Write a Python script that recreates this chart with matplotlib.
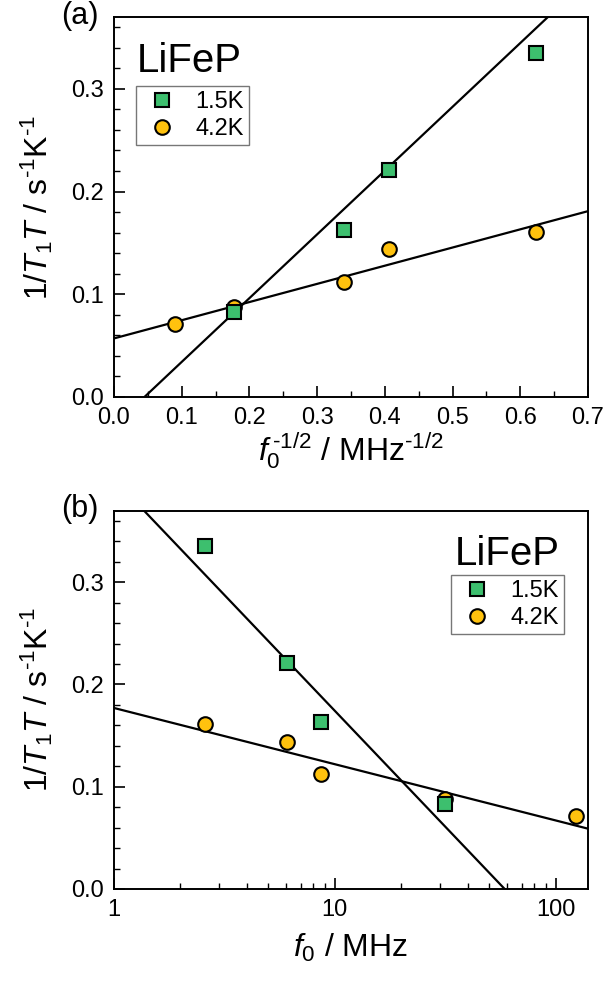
import numpy as np
import matplotlib
matplotlib.use("Agg")
import matplotlib.pyplot as plt
from matplotlib.ticker import MultipleLocator, LogLocator, NullFormatter

plt.rcParams['font.family'] = ['Liberation Sans', 'DejaVu Sans']
plt.rcParams['mathtext.fontset'] = 'custom'
plt.rcParams['mathtext.rm'] = 'Liberation Sans'
plt.rcParams['mathtext.it'] = 'Liberation Sans:italic'

# data
f0_green = [31.6, 8.65, 6.07, 2.58]          # MHz, 1.5K
rate_green = [0.083, 0.163, 0.221, 0.335]
f0_yellow = [123.0, 31.6, 8.65, 6.07, 2.58]  # MHz, 4.2K
rate_yellow = [0.071, 0.088, 0.112, 0.144, 0.161]

# straight lines drawn in the figure: (slope, intercept)
line_a_green = [0.621, -0.028]     # vs f0^-1/2
line_a_yellow = [0.177, 0.057]
line_b_green = [-0.2266, 0.4008]   # vs log10(f0)
line_b_yellow = [-0.055, 0.177]

labels = ['1.5K', '4.2K']
green = '#3dbf6e'
yellow = '#ffc20e'

xg = np.array(f0_green) ** -0.5
xy = np.array(f0_yellow) ** -0.5

fig = plt.figure(figsize=(6.04, 9.85), dpi=100)
ax1 = fig.add_axes([0.1887, 0.5970, 0.7848, 0.3858])
ax2 = fig.add_axes([0.1887, 0.0975, 0.7848, 0.3841])

ylab = r'1/$\mathit{T}_1\mathit{T}$ / s$^{\text{-1}}$K$^{\text{-1}}$'
mk = dict(linestyle='none', markeredgecolor='black', markeredgewidth=1.5, zorder=3)
leg_kw = dict(fontsize=17, frameon=True, fancybox=False, edgecolor='#555555',
              handlelength=1.8, handletextpad=0.5, borderpad=0.22,
              labelspacing=0.2, borderaxespad=0)

# (a)
xx = np.linspace(0, 0.7, 50)
ax1.plot(xx, line_a_green[0] * xx + line_a_green[1], color='black', lw=1.6, zorder=2)
ax1.plot(xx, line_a_yellow[0] * xx + line_a_yellow[1], color='black', lw=1.6, zorder=2)
ax1.plot(xy, rate_yellow, marker='o', ms=10.5, color=yellow, **mk)
ax1.plot(xg, rate_green, marker='s', ms=9.6, color=green, **mk)
ax1.set_xlim(0, 0.7)
ax1.set_ylim(0, 0.37)
ax1.xaxis.set_major_locator(MultipleLocator(0.1))
ax1.xaxis.set_minor_locator(MultipleLocator(0.05))
ax1.yaxis.set_major_locator(MultipleLocator(0.1))
ax1.yaxis.set_minor_locator(MultipleLocator(0.02))
ax1.set_xlabel(r'$\mathit{f}_0^{\,\text{-1/2}}$ / MHz$^{\text{-1/2}}$', fontsize=23, labelpad=1)
ax1.set_ylabel(ylab, fontsize=23, labelpad=12)
h1 = ax1.plot([], [], marker='s', ms=9.6, color=green, **mk)[0]
h2 = ax1.plot([], [], marker='o', ms=10.5, color=yellow, **mk)[0]
ax1.legend([h1, h2], labels, loc='upper left', bbox_to_anchor=(0.046, 0.818),
           **leg_kw).get_frame().set_linewidth(1.0)
ax1.text(0.047, 0.855, 'LiFeP', transform=ax1.transAxes, fontsize=29,
         ha='left', va='baseline')

# (b)
ff = np.logspace(0, np.log10(140), 100)
ax2.plot(ff, line_b_green[0] * np.log10(ff) + line_b_green[1], color='black', lw=1.6, zorder=2)
ax2.plot(ff, line_b_yellow[0] * np.log10(ff) + line_b_yellow[1], color='black', lw=1.6, zorder=2)
ax2.plot(f0_yellow, rate_yellow, marker='o', ms=10.5, color=yellow, **mk)
ax2.plot(f0_green, rate_green, marker='s', ms=9.6, color=green, **mk)
ax2.set_xscale('log')
ax2.set_xlim(1, 140)
ax2.set_ylim(0, 0.37)
ax2.xaxis.set_minor_locator(LogLocator(base=10, subs=np.arange(2, 10)))
ax2.xaxis.set_minor_formatter(NullFormatter())
ax2.set_xticks([1, 10, 100])
ax2.set_xticklabels(['1', '10', '100'])
ax2.yaxis.set_major_locator(MultipleLocator(0.1))
ax2.yaxis.set_minor_locator(MultipleLocator(0.02))
ax2.set_xlabel(r'$\mathit{f}_0$ / MHz', fontsize=23, labelpad=8)
ax2.set_ylabel(ylab, fontsize=23, labelpad=12)
h1 = ax2.plot([], [], marker='s', ms=9.6, color=green, **mk)[0]
h2 = ax2.plot([], [], marker='o', ms=10.5, color=yellow, **mk)[0]
ax2.legend([h1, h2], labels, loc='upper right', bbox_to_anchor=(0.949, 0.830),
           **leg_kw).get_frame().set_linewidth(1.0)
ax2.text(0.941, 0.856, 'LiFeP', transform=ax2.transAxes, fontsize=29,
         ha='right', va='baseline')

for ax in (ax1, ax2):
    for s in ax.spines.values():
        s.set_linewidth(1.4)
    ax.tick_params(which='both', direction='in', top=False, right=False, labelsize=17)
    ax.tick_params(which='major', length=8, width=1.2, pad=7)
    ax.tick_params(which='minor', length=4.5, width=1.0)
    ax.yaxis.set_major_formatter(plt.FuncFormatter(lambda v, p: f'{v:.1f}'))

fig.text(0.102, 0.999, '(a)', fontsize=22, ha='left', va='top')
fig.text(0.102, 1 - 494 / 985, '(b)', fontsize=22, ha='left', va='top')

fig.savefig('out.png', dpi=100)
